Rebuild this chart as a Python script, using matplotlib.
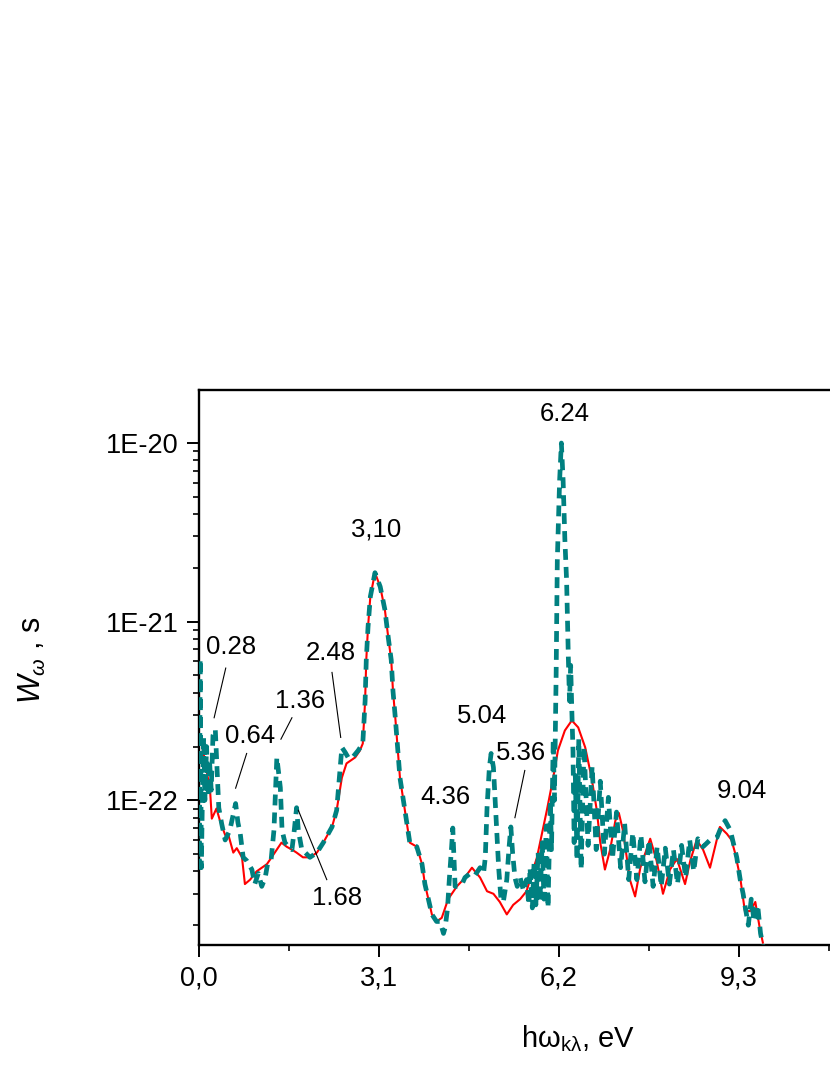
import numpy as np
import matplotlib
matplotlib.use('Agg')
import matplotlib.pyplot as plt
from matplotlib.ticker import FixedLocator, LogLocator, NullFormatter

plt.rcParams['font.family'] = ['Liberation Sans', 'DejaVu Sans']
plt.rcParams['mathtext.fontset'] = 'custom'
plt.rcParams['mathtext.rm'] = 'Liberation Sans'
plt.rcParams['mathtext.it'] = 'Liberation Sans:italic'

# red solid curve (eV, s)
red_x = [0.02, 0.10, 0.19, 0.22, 0.30, 0.36, 0.45, 0.50, 0.59, 0.65, 0.74, 0.79, 0.88, 0.99,
         1.17, 1.25, 1.42, 1.51, 1.60, 1.68, 1.79, 1.91, 2.03, 2.14, 2.29, 2.37, 2.46, 2.54,
         2.69, 2.77, 2.82, 2.86, 2.88, 2.91, 2.95, 3.03, 3.12, 3.20, 3.26, 3.31, 3.34, 3.38,
         3.46, 3.58, 3.63, 3.75, 3.84, 3.89, 4.01, 4.09, 4.18, 4.29, 4.44, 4.55, 4.70, 4.84,
         4.96, 5.07, 5.18, 5.30, 5.41, 5.53, 5.64, 5.70, 5.82, 5.99, 6.10, 6.18, 6.30, 6.42,
         6.53, 6.65, 6.76, 6.85, 6.91, 6.99, 7.08, 7.17, 7.23, 7.30, 7.42, 7.51, 7.60, 7.77,
         7.88, 7.99, 8.11, 8.23, 8.37, 8.46, 8.57, 8.68, 8.80, 8.97, 9.09, 9.17, 9.23, 9.32,
         9.40, 9.49, 9.58, 9.66, 9.71]
red_w = [2.31e-22, 1.67e-22, 1.14e-22, 7.9e-23, 9.0e-23, 7.7e-23, 6.4e-23, 6.5e-23, 5.1e-23,
         5.4e-23, 4.8e-23, 3.4e-23, 3.6e-23, 4.0e-23, 4.4e-23, 4.8e-23, 5.8e-23, 5.5e-23,
         5.3e-23, 5.1e-23, 4.8e-23, 4.8e-23, 5.1e-23, 5.8e-23, 7.1e-23, 8.8e-23, 1.34e-22,
         1.61e-22, 1.74e-22, 1.90e-22, 2.08e-22, 3.6e-22, 6.1e-22, 9.3e-22, 1.38e-21, 1.88e-21,
         1.57e-21, 1.17e-21, 8.1e-22, 6.1e-22, 4.1e-22, 2.9e-22, 1.34e-22, 7.4e-23, 5.8e-23,
         5.5e-23, 4.4e-23, 3.4e-23, 2.3e-23, 2.1e-23, 2.2e-23, 2.8e-23, 3.3e-23, 3.6e-23,
         4.2e-23, 3.7e-23, 3.1e-23, 3.0e-23, 2.7e-23, 2.3e-23, 2.6e-23, 2.8e-23, 3.1e-23,
         3.6e-23, 4.8e-23, 8.8e-23, 1.34e-22, 1.90e-22, 2.46e-22, 2.8e-22, 2.56e-22, 1.98e-22,
         1.34e-22, 8.8e-23, 5.8e-23, 4.1e-23, 5.3e-23, 7.7e-23, 8.5e-23, 6.8e-23, 3.6e-23,
         2.9e-23, 4.2e-23, 6.1e-23, 4.6e-23, 3.0e-23, 4.1e-23, 4.7e-23, 3.4e-23, 4.6e-23,
         6.0e-23, 5.3e-23, 4.2e-23, 7.1e-23, 6.5e-23, 6.0e-23, 5.1e-23, 3.7e-23, 2.4e-23,
         2.4e-23, 2.7e-23, 1.9e-23, 1.6e-23]

# teal dashed curve (eV, s)
teal_x = [0.005, 0.02, 0.04, 0.06, 0.08, 0.10, 0.13, 0.155, 0.18, 0.21, 0.24, 0.28, 0.32,
          0.34, 0.39, 0.45, 0.53, 0.63, 0.67, 0.71, 0.76, 0.82, 0.91, 0.96, 1.02, 1.08, 1.14,
          1.18, 1.24, 1.29, 1.34, 1.40, 1.43, 1.48, 1.54, 1.60, 1.64, 1.68, 1.71, 1.77, 1.83,
          1.91, 2.03, 2.14, 2.29, 2.37, 2.46, 2.52, 2.58, 2.65, 2.74, 2.82, 2.86, 2.88, 2.91,
          2.95, 3.03, 3.12, 3.20, 3.26, 3.31, 3.34, 3.38, 3.46, 3.58, 3.63, 3.75, 3.84, 3.89,
          4.01, 4.09, 4.15, 4.21, 4.24, 4.28, 4.31, 4.35, 4.37, 4.39, 4.41, 4.47, 4.53, 4.58,
          4.67, 4.75, 4.84, 4.90, 4.93, 4.96, 5.00, 5.03, 5.07, 5.10, 5.13, 5.16, 5.20, 5.24,
          5.30, 5.34, 5.37, 5.40, 5.44, 5.48, 5.53, 5.59, 5.64, 5.68, 5.70, 5.74, 5.77, 5.80,
          5.84, 5.87, 5.91, 5.94, 5.98, 6.01, 6.05, 6.07, 6.10, 6.12, 6.15, 6.17, 6.21, 6.24,
          6.27, 6.30, 6.33, 6.36, 6.38, 6.40, 6.42, 6.44, 6.46, 6.48, 6.51, 6.54, 6.58, 6.63,
          6.70, 6.77, 6.84, 6.91, 6.98, 7.05, 7.12, 7.19, 7.26, 7.33, 7.40, 7.47, 7.54, 7.61,
          7.68, 7.75, 7.82, 7.89, 7.96, 8.03, 8.10, 8.17, 8.24, 8.31, 8.38, 8.45, 8.52, 8.59,
          8.68, 8.80, 8.92, 8.97, 9.06, 9.15, 9.20, 9.26, 9.32, 9.37, 9.40, 9.46, 9.51, 9.56,
          9.62, 9.67, 9.71]
teal_w = [4.1e-23, 6.2e-22, 4.2e-23, 1.14e-22, 2.25e-22, 1.0e-22, 2.0e-22, 1.06e-22, 1.67e-22,
          1.14e-22, 2.31e-22, 2.5e-22, 1.29e-22, 9.1e-23, 7.4e-23, 6.0e-23, 6.8e-23, 9.6e-23,
          7.5e-23, 6.5e-23, 4.8e-23, 4.6e-23, 4.1e-23, 3.4e-23, 3.9e-23, 3.3e-23, 3.7e-23,
          4.4e-23, 4.6e-23, 6.8e-23, 1.74e-22, 1.18e-22, 6.8e-23, 5.8e-23, 5.5e-23, 5.3e-23,
          6.8e-23, 9.1e-23, 6.8e-23, 5.3e-23, 5.1e-23, 4.8e-23, 5.1e-23, 5.8e-23, 7.1e-23,
          8.8e-23, 1.98e-22, 1.85e-22, 1.71e-22, 1.75e-22, 1.90e-22, 2.08e-22, 3.6e-22, 6.1e-22,
          9.3e-22, 1.38e-21, 1.88e-21, 1.57e-21, 1.17e-21, 8.1e-22, 6.1e-22, 4.1e-22, 2.9e-22,
          1.34e-22, 7.4e-23, 5.8e-23, 5.5e-23, 4.4e-23, 3.4e-23, 2.3e-23, 2.1e-23, 2.1e-23,
          1.8e-23, 1.95e-23, 2.5e-23, 3.6e-23, 5.5e-23, 7.0e-23, 4.8e-23, 3.3e-23, 3.3e-23,
          3.4e-23, 3.7e-23, 3.9e-23, 3.8e-23, 4.2e-23, 3.9e-23, 4.8e-23, 9.1e-23, 1.53e-22,
          1.83e-22, 1.53e-22, 1.0e-22, 6.5e-23, 4.2e-23, 2.8e-23, 2.7e-23, 3.6e-23, 5.5e-23,
          7.1e-23, 5.1e-23, 3.7e-23, 3.3e-23, 3.7e-23, 3.1e-23, 3.6e-23, 2.6e-23, 4.2e-23,
          2.5e-23, 4.5e-23, 2.6e-23, 5.1e-23, 2.7e-23, 5.8e-23, 2.8e-23, 7.2e-23, 2.5e-23,
          1.0e-22, 5.3e-23, 2.2e-22, 1.0e-22, 5.1e-22, 2.2e-21, 6.2e-21, 1.0e-20, 6.2e-21,
          2.9e-21, 1.7e-21, 6.3e-22, 3.6e-22, 5.7e-22, 3.2e-22, 1.9e-22, 5.8e-23, 1.38e-22,
          4.6e-23, 2.2e-22, 4.1e-23, 2.0e-22, 5.6e-23, 1.55e-22, 5.3e-23, 1.28e-22, 5.0e-23,
          1.04e-22, 4.7e-23, 8.6e-23, 4.2e-23, 7.4e-23, 3.6e-23, 6.6e-23, 3.6e-23, 6.4e-23,
          3.5e-23, 6.0e-23, 3.3e-23, 5.5e-23, 3.3e-23, 5.4e-23, 3.4e-23, 5.3e-23, 3.4e-23,
          5.6e-23, 3.7e-23, 6.0e-23, 4.0e-23, 6.1e-23, 5.5e-23, 6.0e-23, 6.2e-23, 6.8e-23,
          7.7e-23, 6.8e-23, 5.8e-23, 4.8e-23, 3.6e-23, 3.0e-23, 2.6e-23, 2.0e-23, 2.8e-23,
          2.1e-23, 2.6e-23, 1.8e-23, 1.55e-23]

# peak labels
peak_labels = ['0.28', '0.64', '1.36', '2.48', '1.68', '3,10', '4.36', '5.04', '5.36', '6.24', '9.04']
xtick_vals = [0, 3.1, 6.2, 9.3]
xtick_labels = ['0,0', '3,1', '6,2', '9,3']
ytick_vals = [1e-22, 1e-21, 1e-20]
ytick_labels = ['1E-22', '1E-21', '1E-20']

# text positions (x, y) and leader lines (x0, y0, x1, y1)
label_pos = [(0.55, 7.2e-22), (0.88, 2.28e-22), (1.74, 3.6e-22), (2.27, 6.7e-22),
             (2.38, 2.85e-23), (3.05, 3.3e-21), (4.25, 1.04e-22), (4.87, 2.98e-22),
             (5.55, 1.85e-22), (6.29, 1.45e-20), (9.34, 1.13e-22)]
leaders = [(0.46, 5.5e-22, 0.26, 2.9e-22), (0.82, 1.83e-22, 0.63, 1.17e-22),
           (1.60, 2.9e-22, 1.41, 2.2e-22), (2.29, 5.2e-22, 2.44, 2.25e-22),
           (1.71, 8.8e-23, 2.20, 3.6e-23), (5.61, 1.47e-22, 5.44, 8.0e-23)]

fig = plt.figure(figsize=(8.3, 10.75), dpi=100)
ax = fig.add_axes([0.2398, 0.1209, 0.8675, 0.5163])

ax.plot(red_x, red_w, color='red', lw=1.5, zorder=2)
ax.plot(teal_x, teal_w, color='#008080', lw=3.4, ls=(0, (2.3, 1.5)), zorder=3)

ax.set_yscale('log')
ax.set_xlim(0, 12.4)
ax.set_ylim(1.55e-23, 1.98e-20)

for s in ax.spines.values():
    s.set_linewidth(1.7)

ax.set_xticks(xtick_vals)
ax.set_xticklabels(xtick_labels)
ax.xaxis.set_minor_locator(FixedLocator([1.55, 4.65, 7.75, 10.85]))
ax.set_yticks(ytick_vals)
ax.set_yticklabels(ytick_labels)
ax.yaxis.set_minor_locator(LogLocator(base=10, subs=np.arange(2, 10)))
ax.yaxis.set_minor_formatter(NullFormatter())
ax.tick_params(which='major', direction='out', length=8.5, width=1.4, labelsize=19.5, pad=6)
ax.tick_params(which='minor', direction='out', length=4.5, width=1.2)

for txt, (tx, ty) in zip(peak_labels, label_pos):
    ax.text(tx, ty, txt, fontsize=18.5, ha='center', va='center', zorder=4)
for x0, y0, x1, y1 in leaders:
    ax.plot([x0, x1], [y0, y1], color='black', lw=0.8, zorder=4)

fig.text(0.0386, 0.386, r'$W_{\omega}$ , s', rotation=90, fontsize=22, ha='center', va='center')
fig.text(0.696, 0.026, r'h$\mathregular{\omega_{k\lambda}}$, eV', fontsize=21, ha='center', va='baseline')

fig.savefig('out.png', dpi=100)
